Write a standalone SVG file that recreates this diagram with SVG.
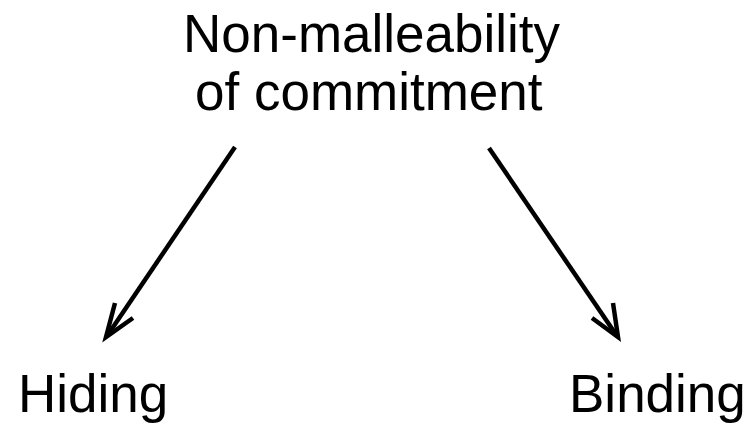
<svg xmlns="http://www.w3.org/2000/svg" width="749" height="424" viewBox="0 0 749 424">
<style>
.t{font-family:"Liberation Sans",Arial,Helvetica,sans-serif;font-size:53px;fill:#000}
.c{fill:none;stroke:#000;stroke-width:4.5;stroke-linecap:butt;stroke-linejoin:miter}
</style>
<rect width="749" height="424" fill="#fff"/>
<g id="root">
<text class="t" x="183" y="52">Non-malleability</text>
<text class="t" x="195" y="110">of commitment</text>
</g>
<g id="hiding">
<text class="t" x="18" y="412">Hiding</text>
</g>
<g id="binding">
<text class="t" x="569" y="412">Binding</text>
</g>
<g id="connectors">
<line class="c" x1="235" y1="147" x2="107" y2="336"/>
<polyline class="c" points="115,303 106,337 133,318"/>
<line class="c" x1="489" y1="148" x2="617" y2="336"/>
<polyline class="c" points="613,303 618,337 592,318"/>
</g>
</svg>
